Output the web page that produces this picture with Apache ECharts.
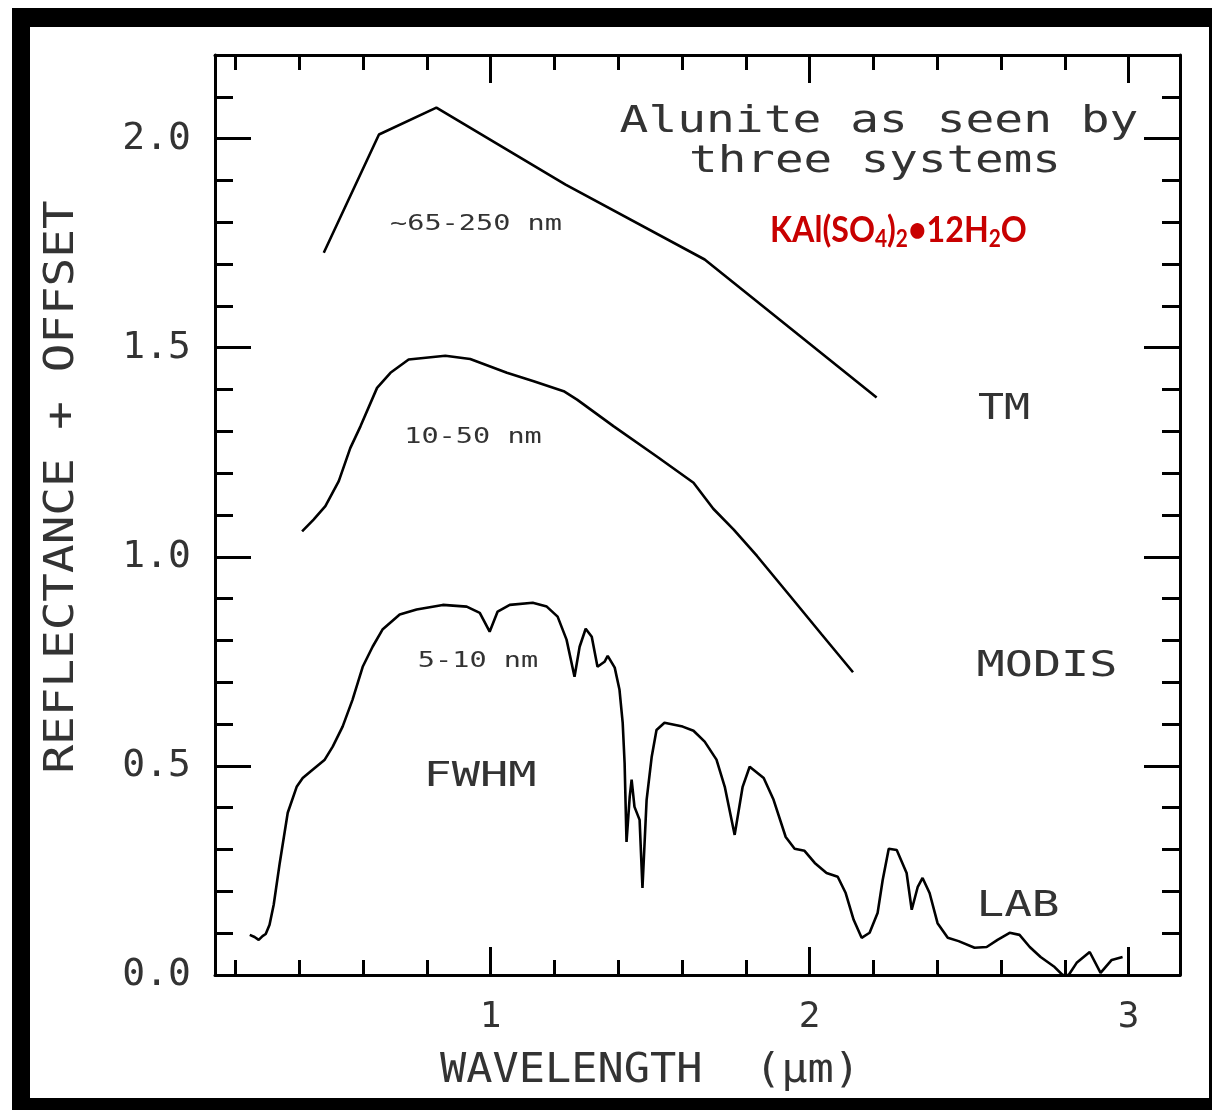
<!DOCTYPE html>
<html>
<head>
<meta charset="utf-8">
<script src="https://cdn.jsdelivr.net/npm/echarts@6/dist/echarts.min.js"></script>
<style>
html,body{margin:0;padding:0;background:#fff;}
#chart{width:1212px;height:1110px;}
</style>
</head>
<body>
<div id="chart"></div>
<script>
// ---------------- data (wavelength in µm, reflectance + offset) ----------------
const tmWavelength  = [0.477, 0.650, 0.830, 1.235, 1.671, 2.210];
const tmReflectance = [1.727, 2.010, 2.074, 1.890, 1.711, 1.381];

const modisWavelength  = [0.409, 0.445, 0.482, 0.524, 0.560, 0.592, 0.644, 0.686, 0.743, 0.858, 0.936, 1.051,
                          1.135, 1.229, 1.271, 1.386, 1.521, 1.636, 1.698, 1.762, 1.835, 1.940, 2.036, 2.136];
const modisReflectance = [1.061, 1.089, 1.121, 1.181, 1.260, 1.312, 1.404, 1.440, 1.472, 1.481, 1.473, 1.440,
                          1.420, 1.396, 1.376, 1.312, 1.240, 1.177, 1.115, 1.065, 1.002, 0.905, 0.816, 0.724];

const labWavelength = [0.245, 0.260, 0.273, 0.285, 0.295, 0.307, 0.320, 0.339, 0.364, 0.392, 0.411, 0.442,
  0.480, 0.505, 0.536, 0.567, 0.599, 0.630, 0.661, 0.715, 0.768, 0.850, 0.925, 0.966,
  0.997, 1.022, 1.060, 1.132, 1.176, 1.210, 1.238, 1.263, 1.279, 1.298, 1.317, 1.335,
  1.357, 1.367, 1.389, 1.404, 1.414, 1.420, 1.426, 1.436, 1.442, 1.451, 1.467, 1.476,
  1.489, 1.505, 1.520, 1.545, 1.602, 1.636, 1.671, 1.708, 1.734, 1.765, 1.790, 1.812,
  1.856, 1.887, 1.925, 1.953, 1.984, 2.016, 2.053, 2.088, 2.113, 2.138, 2.163, 2.188,
  2.213, 2.229, 2.248, 2.273, 2.304, 2.320, 2.339, 2.354, 2.376, 2.401, 2.433, 2.467,
  2.517, 2.555, 2.589, 2.627, 2.658, 2.690, 2.724, 2.768, 2.793, 2.812, 2.837, 2.878,
  2.912, 2.947, 2.981];
const labReflectance = [0.096, 0.091, 0.084, 0.093, 0.098, 0.120, 0.168, 0.268, 0.388, 0.450, 0.471, 0.491,
  0.515, 0.546, 0.594, 0.658, 0.737, 0.785, 0.826, 0.862, 0.874, 0.885, 0.881, 0.866,
  0.821, 0.869, 0.885, 0.890, 0.881, 0.857, 0.802, 0.713, 0.785, 0.828, 0.809, 0.737,
  0.749, 0.763, 0.735, 0.682, 0.603, 0.507, 0.318, 0.426, 0.467, 0.402, 0.371, 0.208,
  0.419, 0.522, 0.586, 0.603, 0.594, 0.584, 0.558, 0.515, 0.450, 0.335, 0.450, 0.498,
  0.471, 0.419, 0.330, 0.302, 0.297, 0.268, 0.244, 0.235, 0.196, 0.132, 0.089, 0.101,
  0.148, 0.227, 0.302, 0.299, 0.244, 0.156, 0.211, 0.232, 0.196, 0.124, 0.089, 0.081,
  0.065, 0.067, 0.084, 0.101, 0.096, 0.067, 0.043, 0.019, 0.000, 0.000, 0.029, 0.055,
  0.005, 0.036, 0.043];

const xTickLabels = ['1', '2', '3'];
const yTickLabels = ['0.0', '0.5', '1.0', '1.5', '2.0'];

// ---------------- chart ----------------
const MONO = '"DejaVu Sans Mono", monospace';
const INK = '#000';
const TXT = '#333';

function pairs(xs, ys) { return xs.map((x, i) => [x, ys[i]]); }
function pickLabel(list, v) {
  for (const s of list) { if (Math.abs(Number(s) - v) < 1e-6) return s; }
  return '';
}

const lineW = 3;
function xAxisDef(pos, showLabel) {
  return {
    type: 'value', position: pos, min: 0.136, max: 3.161, splitNumber: 3,
    axisLine: { show: true, onZero: false, lineStyle: { color: INK, width: lineW } },
    axisTick: { show: true, inside: true, length: 28, lineStyle: { color: INK, width: 3 } },
    minorTick: { show: true, splitNumber: 5, length: 15, lineStyle: { color: INK, width: 3 } },
    splitLine: { show: false }, minorSplitLine: { show: false },
    axisLabel: {
      show: showLabel, margin: 25, fontFamily: MONO, fontSize: 36, color: TXT,
      showMinLabel: false, showMaxLabel: false,
      formatter: v => pickLabel(xTickLabels, v)
    }
  };
}
function yAxisDef(pos, showLabel) {
  return {
    type: 'value', position: pos, min: 0, max: 2.2, interval: 0.5,
    axisLine: { show: true, onZero: false, lineStyle: { color: INK, width: lineW } },
    axisTick: { show: true, inside: true, length: 36, lineStyle: { color: INK, width: 3 } },
    minorTick: { show: true, splitNumber: 5, length: 18, lineStyle: { color: INK, width: 3 } },
    splitLine: { show: false }, minorSplitLine: { show: false },
    axisLabel: {
      show: showLabel, margin: 24, fontFamily: MONO, fontSize: 38, color: TXT,
      showMaxLabel: false,
      formatter: v => pickLabel(yTickLabels, v)
    }
  };
}

function txt(text, x, y, size, sx, extra) {
  return Object.assign({
    type: 'text', x: x, y: y, scaleX: sx, z: 20,
    style: { text: text, font: size + 'px ' + MONO, fill: TXT, textAlign: 'center', textVerticalAlign: 'middle' }
  }, extra || {});
}

const chart = echarts.init(document.getElementById('chart'), null, { renderer: 'canvas' });
const seriesStyle = { type: 'line', symbol: 'none', showSymbol: false, smooth: false,
  lineStyle: { color: INK, width: 2.6 }, z: 5, silent: true };

chart.setOption({
  animation: false,
  backgroundColor: '#fff',
  grid: { left: 215, right: 32, top: 55, bottom: 135, containLabel: false },
  xAxis: [xAxisDef('bottom', true), xAxisDef('top', false)],
  yAxis: [yAxisDef('left', true), yAxisDef('right', false)],
  series: [
    Object.assign({ name: 'TM', data: pairs(tmWavelength, tmReflectance) }, seriesStyle),
    Object.assign({ name: 'MODIS', data: pairs(modisWavelength, modisReflectance) }, seriesStyle),
    Object.assign({ name: 'LAB', data: pairs(labWavelength, labReflectance) }, seriesStyle)
  ],
  graphic: [
    // outer black frame
    { type: 'rect', shape: { x: 12, y: 8, width: 1200, height: 19 }, style: { fill: '#000' }, z: 30 },
    { type: 'rect', shape: { x: 12, y: 8, width: 18, height: 1102 }, style: { fill: '#000' }, z: 30 },
    { type: 'rect', shape: { x: 1209, y: 8, width: 3, height: 1102 }, style: { fill: '#000' }, z: 30 },
    { type: 'rect', shape: { x: 12, y: 1098, width: 1200, height: 12 }, style: { fill: '#000' }, z: 30 },
    // titles and annotations
    txt('Alunite as seen by', 879, 122, 38, 1.26),
    txt('three systems', 875, 162, 38, 1.25),
    txt('~65-250 nm', 476, 225, 21, 1.36),
    txt('10-50 nm', 473, 438, 21, 1.36),
    txt('5-10 nm', 478, 662, 21, 1.36),
    txt('FWHM', 480, 777, 34, 1.38),
    txt('TM', 1004, 410, 36, 1.2),
    txt('MODIS', 1047, 667, 36, 1.3),
    txt('LAB', 1018, 907, 36, 1.28),
    // axis names
    txt('REFLECTANCE + OFFSET', 63, 487, 40, 1.19, { rotation: Math.PI / 2 }),
    txt('WAVELENGTH  (\u00b5m)', 650, 1072, 40, 1.09),
    // chemical formula
    {
      type: 'text', x: 770, y: 230, scaleX: 0.87, z: 20,
      style: {
        text: '{m|KAl(SO}{s|4}{m|)}{s|2}{m|\u202212H}{s|2}{m|O}',
        textAlign: 'left', textVerticalAlign: 'middle',
        rich: {
          m: { fontFamily: 'Lato', fontWeight: 'bold', fontSize: 37, fill: '#c80000', lineHeight: 42 },
          s: { fontFamily: 'Lato', fontWeight: 'bold', fontSize: 24, fill: '#c80000', lineHeight: 22, verticalAlign: 'bottom' }
        }
      }
    }
  ]
});
</script>
</body>
</html>
